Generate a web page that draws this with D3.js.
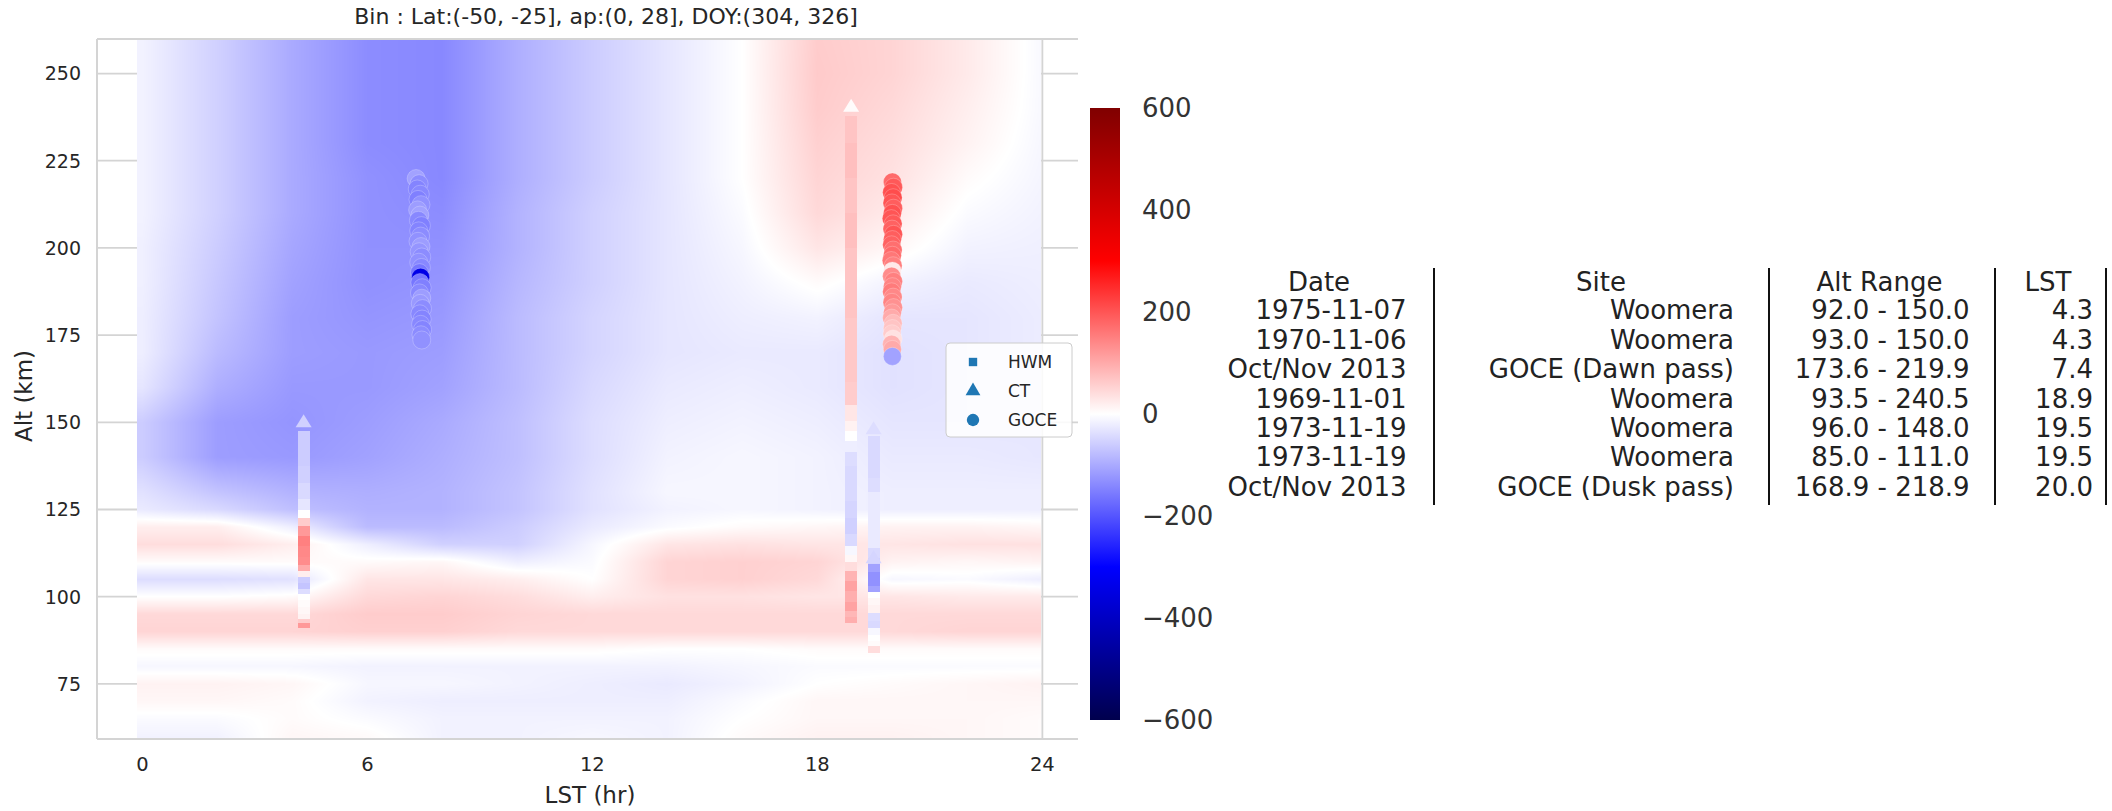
<!DOCTYPE html>
<html>
<head>
<meta charset="utf-8">
<script src="https://cdn.jsdelivr.net/npm/d3@7"></script>
<style>
  html, body { margin: 0; padding: 0; background: #ffffff; }
  svg { display: block; font-family: "DejaVu Sans", sans-serif; }
</style>
</head>
<body>
<svg id="chart" width="2112" height="811"></svg>
<script>
// ---------------- DATA ----------------
const chartTitle = "Bin : Lat:(-50, -25], ap:(0, 28], DOY:(304, 326]";
const xTicks = [0, 6, 12, 18, 24];
const yTicks = [75, 100, 125, 150, 175, 200, 225, 250];
const cbTicks = [-600, -400, -200, 0, 200, 400, 600];

// model field grid: LST columns (hr) and altitude rows (km, top to bottom)
const lstGrid = [0, 2, 4, 6, 8, 10, 12, 14, 16, 18, 20, 22, 24];
const altGrid = [260, 250, 240, 230, 220, 210, 200, 190, 180, 170, 160, 150, 140, 130,
                 125, 120, 115, 110, 105, 100, 95, 90, 85, 80, 75, 70, 65, 60];
const fieldRows = [
  [-15, -55, -100, -135, -140, -95, -60, -30,   0,  60,  50,  25,  -8], // 260
  [-15, -55, -100, -135, -140, -95, -60, -30,   0,  62,  50,  25,  -8], // 250
  [-15, -55, -100, -135, -140, -95, -60, -30,   0,  60,  45,  20,  -8], // 240
  [-15, -55, -100, -135, -140, -95, -60, -30,   0,  55,  40,  15, -10], // 230
  [-15, -55, -100, -130, -140, -95, -60, -30,   0,  50,  35,   5, -12], // 220
  [-15, -55, -100, -130, -135, -90, -55, -30,  -5,  45,  25,  -5, -15], // 210
  [-18, -60, -105, -130, -130, -90, -55, -30, -10,  30,  10, -15, -18], // 200
  [-18, -65, -110, -130, -125, -85, -55, -30, -15,   5, -15, -25, -20], // 190
  [-20, -70, -115, -125, -120, -80, -50, -30, -20, -15, -30, -30, -22], // 180
  [-20, -80, -115, -120, -115, -80, -50, -30, -25, -25, -35, -30, -22], // 170
  [-30, -95, -120, -120, -110, -80, -45, -25, -20, -25, -35, -30, -25], // 160
  [-60, -115, -125, -115, -100, -75, -40, -20, -15, -20, -30, -30, -28], // 150
  [-60, -115, -120, -110, -95, -75, -40, -15, -10, -15, -25, -25, -28], // 140
  [-35, -70, -90, -95, -90, -70, -35, -10, -10, -15, -20, -20, -20], // 130
  [-25, -45, -75, -90, -90, -70, -35, -15, -10, -15, -20, -20, -20], // 125
  [ 20,  20, -20, -80, -80, -60, -25,  -5,   5,  10,  15,  15,  10], // 120
  [ 40,  40,  20, -20, -55, -55, -10,  30,  35,  30,  30,  35,  35], // 115
  [  5,   5,   5,   5,  10, -20,  -5,  50,  55,  50,  15,  10,  15], // 110
  [-40, -40, -35,  30,  30,  20,   0,  50,  55,  45, -10,  -5, -20], // 105
  [  0,   0,   5,  45,  50,  40,  20,  35,  35,  30,  30,  25,  25], // 100
  [ 45,  45,  45,  60,  60,  50,  45,  45,  45,  45,  45,  45,  45], // 95
  [ 50,  50,  50,  55,  55,  45,  45,  45,  45,  45,  45,  50,  50], // 90
  [  5,   5,   5,   5,   5,   5,   5,   0,   0,   5,   5,   5,   5], // 85
  [-10, -10, -10, -15, -15, -15, -15, -15, -10,  -5,  -5,  -5,  -5], // 80
  [ 15,  15,  10, -10, -10, -15, -20, -25, -15,   0,   5,  10,  15], // 75
  [ 10,  10,   5, -15, -20, -20, -20, -20,  -5,  10,  10,  10,  10], // 70
  [ -5,  -5,   5,  -5, -15, -15, -15, -15,   0,  10,  10,  10,   5], // 65
  [-15, -15,  10,   5, -15, -15, -10, -15,   5,  15,  15,  10,   5]  // 60
];

// CT (Woomera) profiles: [alt km, value]
const ctA_lst = 4.3;
const ctA = [[150,-55],[145,-60],[140,-60],[135,-55],[130,-45],[126,-30],[123.5,0],[121.5,60],
  [119,120],[116,150],[113,140],[110,135],[108,100],[106.5,20],[105,-60],[103,-70],[101.5,-40],
  [100,0],[98,5],[96,10],[94,15],[93,60],[92,120]];
const ctB_lst = 18.9;
const ctB = [[240.5,5],[235,70],[225,75],[215,70],[205,75],[195,70],[185,70],[175,65],[165,65],
  [158,60],[152,30],[149,15],[146,0],[143,-20],[140,-40],[135,-45],[130,-45],[125,-50],[120,-55],
  [116,-45],[113,-10],[111,10],[109,40],[106,90],[103,110],[100,95],[97,110],[95,85],[93.5,95]];
const ctC1_lst = 19.5;
const ctC1 = [[148,-40],[144,-45],[140,-45],[136,-45],[132,-40],[128,-25],[124,-25],[120,-25],
  [116,-25],[112,-45],[110,-55],[108,-110],[106,-130],[104,-130],[102,-110],[100,0],[98,10],[96,15]];
const ctC2_lst = 19.5;
const ctC2 = [[111,-50],[108,-110],[106,-130],[104,-130],[102,-110],[100.5,0],[98.5,10],[96.5,15],
  [94,-40],[92,-45],[90,-10],[88,0],[86.5,5],[85,40]];

// GOCE passes: LST (hr), altitude (km), value
const goceDawnLst = [7.30,7.38,7.33,7.41,7.35,7.43,7.34,7.40,7.36,7.44,7.37,7.42,7.35,7.43,7.38,7.45,
  7.37,7.44,7.39,7.42,7.40,7.46,7.39,7.45,7.41,7.47,7.40,7.46,7.42,7.47,7.43,7.45];
const goceDawnAlt = [219.9,218.4,216.9,215.4,213.9,212.4,210.9,209.4,207.9,206.4,204.9,203.4,201.9,200.4,
  198.9,197.4,195.9,194.4,192.9,191.6,190.1,188.6,187.1,185.6,184.1,182.6,181.1,179.6,178.1,176.6,175.1,173.6];
const goceDawnVal = [-110,-135,-145,-140,-150,-130,-115,-110,-140,-150,-145,-135,-130,-115,-125,-135,
  -130,-140,-160,-340,-160,-150,-140,-115,-120,-135,-140,-145,-140,-145,-135,-130];
const goceDuskLst = [20.0,20.03,19.98,20.02,19.99,20.03,20.0,19.97,20.02,19.99,20.03,20.0,19.98,20.02,
  20.0,19.97,20.02,20.0,19.98,20.03,20.0,19.98,20.02,19.99,20.03,20.0,19.98,20.02,20.0,19.99,20.02,19.98,20.0,20.0];
const goceDuskAlt = [218.9,217.4,215.9,214.4,212.9,211.4,209.9,208.4,206.9,205.4,203.9,202.4,200.9,199.4,
  197.9,196.4,194.9,193.4,191.9,190.4,188.9,187.4,185.9,184.4,182.9,181.4,179.9,178.4,176.9,175.4,173.9,172.4,170.9,168.9];
const goceDuskVal = [175,195,205,210,200,190,205,200,195,185,200,190,185,170,175,160,150,25,135,150,
  145,155,140,145,130,120,100,80,70,60,35,90,100,-110];

const legendLabels = ["HWM", "CT", "GOCE"];
const legendShapes = ["square", "triangle", "circle"];

const tableHeader = ["Date", "Site", "Alt Range", "LST"];
const tableDates = ["1975-11-07", "1970-11-06", "Oct/Nov 2013", "1969-11-01", "1973-11-19", "1973-11-19", "Oct/Nov 2013"];
const tableSites = ["Woomera", "Woomera", "GOCE (Dawn pass)", "Woomera", "Woomera", "Woomera", "GOCE (Dusk pass)"];
const tableAltRanges = ["92.0 - 150.0", "93.0 - 150.0", "173.6 - 219.9", "93.5 - 240.5", "96.0 - 148.0", "85.0 - 111.0", "168.9 - 218.9"];
const tableLST = ["4.3", "4.3", "7.4", "18.9", "19.5", "19.5", "20.0"];

// ---------------- CHART ----------------
const svg = d3.select("#chart");
const textColor = "#262626";
const gridColor = "#d4d4d4";

const x = d3.scaleLinear().domain([-1.21, 24.95]).range([97, 1078]);
const y = d3.scaleLinear().domain([59.2, 259.9]).range([739, 39]);

const color = d3.scaleLinear()
  .domain([-600, -300, 0, 300, 600])
  .range(["rgb(0,0,77)", "rgb(0,0,255)", "rgb(255,255,255)", "rgb(255,0,0)", "rgb(128,0,0)"])
  .clamp(true);

// gridlines (below heatmap)
const gGrid = svg.append("g");
gGrid.selectAll("line.h").data(yTicks).join("line")
  .attr("x1", x.range()[0]).attr("x2", x.range()[1])
  .attr("y1", d => y(d)).attr("y2", d => y(d))
  .attr("stroke", gridColor).attr("stroke-width", 1.8);
gGrid.selectAll("line.v").data(xTicks).join("line")
  .attr("y1", y.range()[0]).attr("y2", y.range()[1])
  .attr("x1", d => x(d)).attr("x2", d => x(d))
  .attr("stroke", gridColor).attr("stroke-width", 1.8);

// heatmap rendered to a canvas image via the scales
const altAsc = altGrid.slice().reverse();
const rowsAsc = fieldRows.slice().reverse();
function fieldAt(lst, alt) {
  const l = Math.max(lstGrid[0], Math.min(lstGrid[lstGrid.length - 1], lst));
  const a = Math.max(altAsc[0], Math.min(altAsc[altAsc.length - 1], alt));
  let i = Math.min(lstGrid.length - 2, Math.max(0, d3.bisectRight(lstGrid, l) - 1));
  let j = Math.min(altAsc.length - 2, Math.max(0, d3.bisectRight(altAsc, a) - 1));
  const tx = (l - lstGrid[i]) / (lstGrid[i + 1] - lstGrid[i]);
  const ty = (a - altAsc[j]) / (altAsc[j + 1] - altAsc[j]);
  const v00 = rowsAsc[j][i], v10 = rowsAsc[j][i + 1];
  const v01 = rowsAsc[j + 1][i], v11 = rowsAsc[j + 1][i + 1];
  return (v00 * (1 - tx) + v10 * tx) * (1 - ty) + (v01 * (1 - tx) + v11 * tx) * ty;
}
const hx0 = Math.round(x(-0.14)), hx1 = Math.round(x(23.97));
const hy0 = Math.round(y(259.9)), hy1 = Math.round(y(59.2));
const cw = hx1 - hx0, ch = hy1 - hy0;
const canvas = document.createElement("canvas");
canvas.width = cw; canvas.height = ch;
const ctx = canvas.getContext("2d");
const img = ctx.createImageData(cw, ch);
for (let py = 0; py < ch; py++) {
  const alt = y.invert(hy0 + py + 0.5);
  for (let px = 0; px < cw; px++) {
    const lst = x.invert(hx0 + px + 0.5);
    const c = d3.rgb(color(fieldAt(lst, alt)));
    const k = (py * cw + px) * 4;
    img.data[k] = c.r; img.data[k + 1] = c.g; img.data[k + 2] = c.b; img.data[k + 3] = 255;
  }
}
ctx.putImageData(img, 0, 0);
svg.append("image")
  .attr("x", hx0).attr("y", hy0).attr("width", cw).attr("height", ch)
  .attr("preserveAspectRatio", "none")
  .attr("href", canvas.toDataURL());

// CT profiles as stacked markers (bars) with triangle on top
const ctW = 12;
function drawProfile(lst, prof) {
  const g = svg.append("g");
  const segs = prof.map((d, i) => {
    const up = i === 0 ? d[0] : (prof[i - 1][0] + d[0]) / 2;
    const dn = i === prof.length - 1 ? d[0] - 1 : (prof[i + 1][0] + d[0]) / 2;
    return { top: up, bot: dn, v: d[1] };
  });
  g.selectAll("rect").data(segs.slice(1)).join("rect")
    .attr("x", x(lst) - ctW / 2).attr("width", ctW)
    .attr("y", d => y(d.top)).attr("height", d => Math.max(0.5, y(d.bot) - y(d.top)))
    .attr("fill", d => color(d.v)).attr("shape-rendering", "crispEdges");
  const top = prof[0];
  g.append("path")
    .attr("d", `M${x(lst)},${y(top[0]) - 8} L${x(lst) + 8},${y(top[0]) + 5} L${x(lst) - 8},${y(top[0]) + 5} Z`)
    .attr("fill", color(top[1]));
}
drawProfile(ctA_lst, ctA);
drawProfile(ctB_lst, ctB);
drawProfile(ctC1_lst, ctC1);
drawProfile(ctC2_lst, ctC2);

// GOCE circles
function drawGoce(lsts, alts, vals) {
  const data = alts.map((a, i) => ({ l: lsts[i], a, v: vals[i] }));
  svg.append("g").selectAll("circle").data(data).join("circle")
    .attr("cx", d => x(d.l)).attr("cy", d => y(d.a)).attr("r", 9)
    .attr("fill", d => color(d.v))
    .attr("stroke", "#ffffff").attr("stroke-width", 0.4).attr("stroke-opacity", 0.6);
}
drawGoce(goceDawnLst, goceDawnAlt, goceDawnVal);
drawGoce(goceDuskLst, goceDuskAlt, goceDuskVal);

// spines
const spine = svg.append("g").attr("stroke", gridColor).attr("stroke-width", 2).attr("fill", "none");
spine.append("line").attr("x1", x.range()[0]).attr("x2", x.range()[0]).attr("y1", y.range()[0]).attr("y2", y.range()[1]);
spine.append("line").attr("x1", x.range()[0]).attr("x2", x.range()[1]).attr("y1", y.range()[0]).attr("y2", y.range()[0]);
spine.append("line").attr("x1", x.range()[0]).attr("x2", x.range()[1]).attr("y1", y.range()[1]).attr("y2", y.range()[1]);

// tick labels
svg.append("g").selectAll("text").data(yTicks).join("text")
  .attr("x", 81).attr("y", d => y(d)).attr("dy", "0.36em")
  .attr("text-anchor", "end").attr("font-size", 19).attr("fill", textColor)
  .text(d => d);
svg.append("g").selectAll("text").data(xTicks).join("text")
  .attr("x", d => x(d)).attr("y", 764).attr("dy", "0.36em")
  .attr("text-anchor", "middle").attr("font-size", 19.5).attr("fill", textColor)
  .text(d => d);

// axis labels & title
svg.append("text").attr("x", 590).attr("y", 795).attr("dy", "0.36em")
  .attr("text-anchor", "middle").attr("font-size", 23).attr("fill", textColor).text("LST (hr)");
svg.append("text").attr("transform", `translate(24,396) rotate(-90)`)
  .attr("dy", "0.36em").attr("text-anchor", "middle").attr("font-size", 23).attr("fill", textColor).text("Alt (km)");
svg.append("text").attr("x", 606).attr("y", 16).attr("dy", "0.36em")
  .attr("text-anchor", "middle").attr("font-size", 22).attr("fill", textColor).text(chartTitle);

// legend
const lg = svg.append("g");
lg.append("rect").attr("x", 946).attr("y", 343).attr("width", 126).attr("height", 94)
  .attr("rx", 4).attr("fill", "#ffffff").attr("fill-opacity", 0.85)
  .attr("stroke", "#cccccc").attr("stroke-width", 1);
const symMap = { square: d3.symbolSquare, triangle: d3.symbolTriangle, circle: d3.symbolCircle };
const symSize = { square: 70, triangle: 95, circle: 120 };
const lgRows = legendLabels.map((l, i) => ({ label: l, shape: legendShapes[i], i }));
lg.selectAll("path").data(lgRows).join("path")
  .attr("transform", d => `translate(973,${362 + d.i * 29})`)
  .attr("d", d => d3.symbol(symMap[d.shape], symSize[d.shape])())
  .attr("fill", "#1f77b4");
lg.selectAll("text").data(lgRows).join("text")
  .attr("x", 1008).attr("y", d => 362 + d.i * 29).attr("dy", "0.36em")
  .attr("font-size", 17).attr("fill", textColor).text(d => d.label);

// colorbar
const cbY = d3.scaleLinear().domain([-600, 600]).range([720, 108]);
const defs = svg.append("defs");
const grad = defs.append("linearGradient").attr("id", "cbgrad")
  .attr("x1", 0).attr("y1", 1).attr("x2", 0).attr("y2", 0);
d3.range(0, 1.0001, 0.05).forEach(t => {
  grad.append("stop").attr("offset", t).attr("stop-color", color(-600 + 1200 * t));
});
svg.append("rect").attr("x", 1090).attr("y", cbY(600)).attr("width", 30)
  .attr("height", cbY(-600) - cbY(600)).attr("fill", "url(#cbgrad)");
svg.append("g").selectAll("text").data(cbTicks).join("text")
  .attr("x", 1142).attr("y", d => cbY(d)).attr("dy", "0.36em")
  .attr("font-size", 26).attr("fill", "#333333")
  .text(d => d < 0 ? "\u2212" + Math.abs(d) : d);

// table
const colCenters = [1319, 1601, 1879.5, 2048];
const colRights = [1406.5, 1734, 1969.6, 2093];
const colLines = [1434, 1769, 1995, 2106];
const tCols = [tableDates, tableSites, tableAltRanges, tableLST];
const tg = svg.append("g").attr("font-size", 26).attr("fill", "#222222");
tg.selectAll("text.h").data(tableHeader).join("text")
  .attr("x", (d, i) => colCenters[i]).attr("y", 282).attr("dy", "0.36em")
  .attr("text-anchor", "middle").text(d => d);
tCols.forEach((col, ci) => {
  tg.append("g").selectAll("text").data(col).join("text")
    .attr("x", colRights[ci]).attr("y", (d, i) => 310 + i * 29.4).attr("dy", "0.36em")
    .attr("text-anchor", "end").text(d => d);
});
svg.append("g").selectAll("line").data(colLines).join("line")
  .attr("x1", d => d).attr("x2", d => d).attr("y1", 268).attr("y2", 505)
  .attr("stroke", "#111111").attr("stroke-width", 2);
</script>
</body>
</html>
